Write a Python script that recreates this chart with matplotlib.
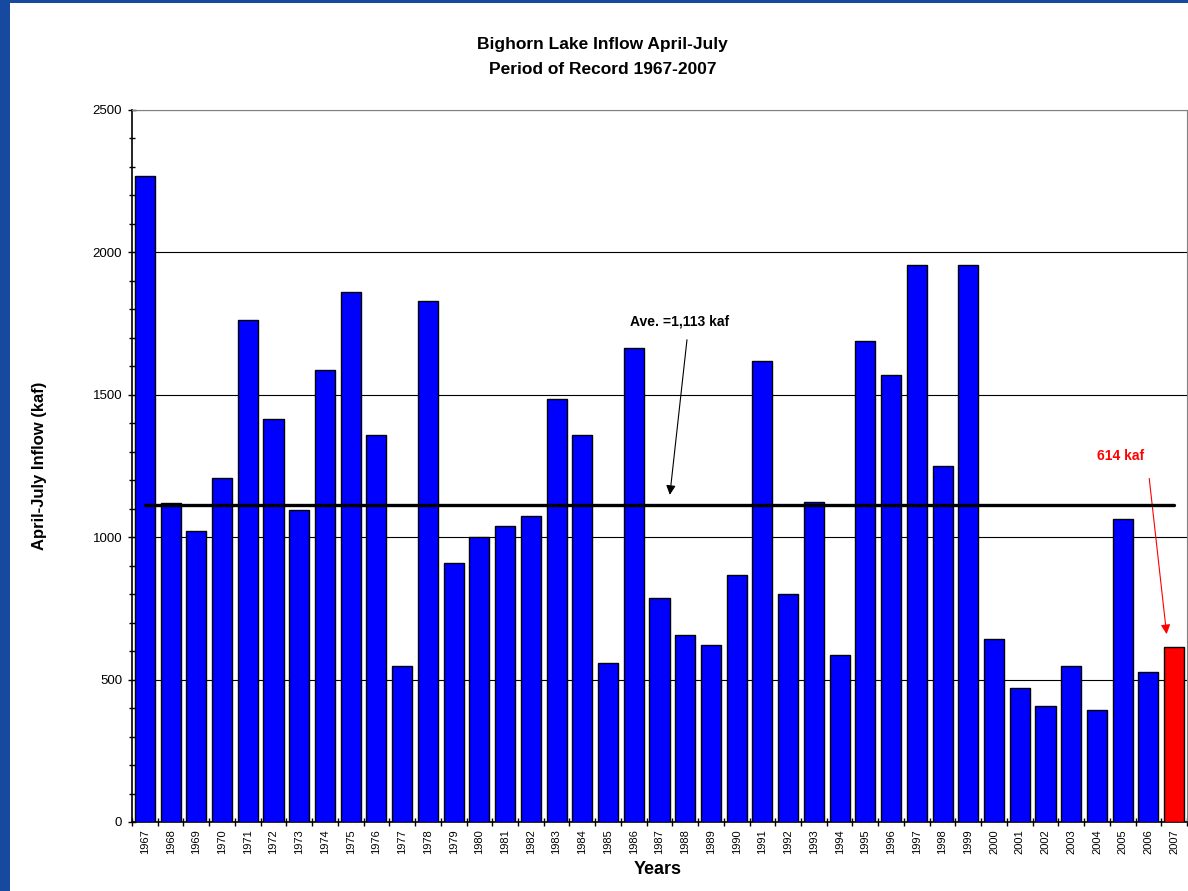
import matplotlib.pyplot as plt
import numpy as np
from matplotlib.patches import Rectangle

plt.rcParams['font.family'] = ['Liberation Sans', 'DejaVu Sans']

years = list(range(1967, 2008))
inflow = [2270, 1121, 1022, 1209, 1764, 1414, 1095, 1586, 1862, 1358,
          549, 1828, 911, 1000, 1040, 1074, 1485, 1360, 560, 1663,
          788, 655, 620, 869, 1620, 800, 1125, 585, 1688, 1569,
          1957, 1249, 1957, 641, 471, 407, 548, 394, 1065, 526,
          614]
average = 1113
highlight_year = 2007

x = np.arange(len(years))
colors = ['#ff0000' if y == highlight_year else '#0000ff' for y in years]

fig = plt.figure(figsize=(11.88, 8.91), dpi=100)
fig.patch.set_facecolor('white')

# slide frame (blue strip on left and top)
fig.add_artist(Rectangle((0, 0), 10 / 1188, 1, transform=fig.transFigure,
                         facecolor='#1749a0', edgecolor='none'))
fig.add_artist(Rectangle((0, 1 - 3 / 891), 1, 3 / 891, transform=fig.transFigure,
                         facecolor='#1749a0', edgecolor='none'))

ax = fig.add_axes([132 / 1188, 69 / 891, 1055 / 1188, 712 / 891])
ax.bar(x, inflow, width=0.78, color=colors, edgecolor='black', linewidth=1, zorder=3)
ax.plot([x[0], x[-1]], [average, average], color='black', lw=2.4, zorder=4,
        solid_capstyle='round')

ax.set_xlim(-0.5, len(years) - 0.5)
ax.set_ylim(0, 2500)
ax.set_yticks(np.arange(0, 2501, 500))
ax.set_yticks(np.arange(0, 2501, 100), minor=True)
ax.yaxis.grid(True, which='major', color='black', lw=0.8, zorder=0)
ax.tick_params(axis='y', which='major', direction='inout', length=6, width=1,
               labelsize=9.5, pad=4)
ax.tick_params(axis='y', which='minor', direction='inout', length=4, width=1)

ax.set_xticks(x)
ax.set_xticklabels([str(y) for y in years], rotation=90, fontsize=8)
ax.set_xticks(np.arange(-0.5, len(years), 1), minor=True)
ax.tick_params(axis='x', which='major', length=0, pad=5)
ax.tick_params(axis='x', which='minor', direction='inout', length=6, width=1)

for side in ['top', 'right']:
    ax.spines[side].set_color('#808080')
ax.spines['left'].set_linewidth(1.2)
ax.spines['bottom'].set_linewidth(1.2)

fig.text(40 / 1188, 1 - 466 / 891, 'April-July Inflow (kaf)', rotation=90,
         ha='center', va='center', fontsize=12, fontweight='bold')
fig.text(658 / 1188, 1 - 870 / 891, 'Years', ha='center', va='center',
         fontsize=13, fontweight='bold')

fig.text(0.507, 1 - 44 / 891, 'Bighorn Lake Inflow April-July', ha='center', va='center',
         fontsize=12.5, fontweight='bold')
fig.text(0.507, 1 - 69 / 891, 'Period of Record 1967-2007', ha='center', va='center',
         fontsize=12.5, fontweight='bold')

ax.annotate('', xy=(20.39, 1139), xytext=(21.08, 1703),
            arrowprops=dict(arrowstyle='-|>', color='black', lw=0.8, mutation_scale=14))
ax.text(20.77, 1756, 'Ave. =1,113 kaf', ha='center', va='center', fontsize=10,
        fontweight='bold')

ax.annotate('', xy=(39.72, 650), xytext=(39.02, 1216),
            arrowprops=dict(arrowstyle='-|>', color='#ff0000', lw=0.8, mutation_scale=14))
ax.text(37.93, 1286, '614 kaf', ha='center', va='center', fontsize=10,
        fontweight='bold', color='#ff0000')

fig.savefig('out.png', dpi=100)
